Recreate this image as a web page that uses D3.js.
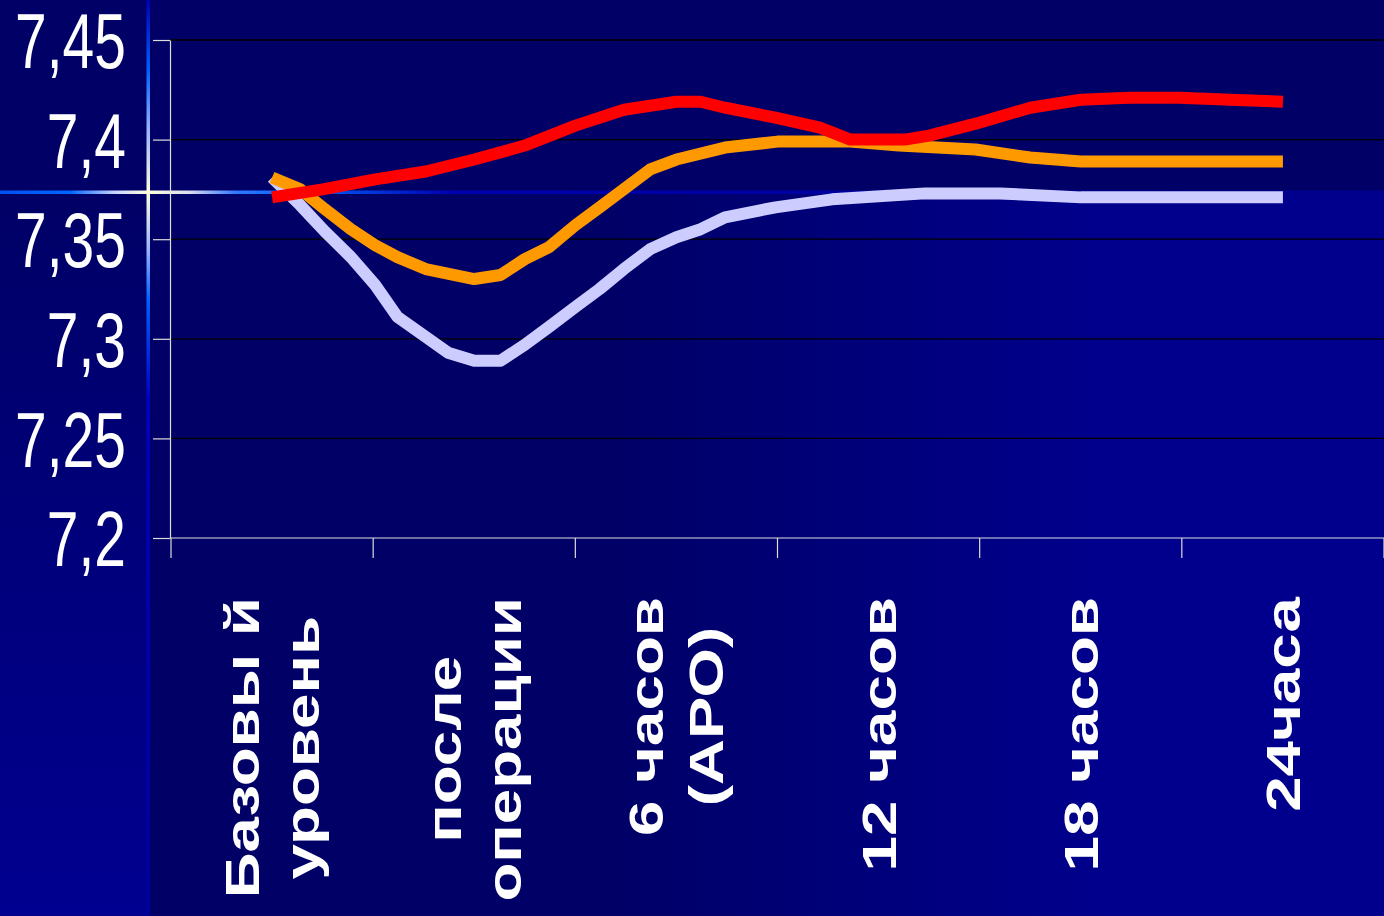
<!DOCTYPE html>
<html>
<head>
<meta charset="utf-8">
<script src="https://cdn.jsdelivr.net/npm/d3@7"></script>
<style>
    body { margin: 0; background: #000066; overflow: hidden; }
    text { font-family: "Liberation Sans", Arial, sans-serif; fill: #ffffff; }
</style>
</head>
<body>
<div id="chart"></div>
<script>
const categoryLabels = [
    ["Базовы й", "уровень"],
    ["после", "операции"],
    ["6 часов", "(АРО)"],
    ["12 часов"],
    ["18 часов"],
    ["24часа"]
];

const yTicks = [7.2, 7.25, 7.3, 7.35, 7.4, 7.45];
const yTickLabels = ["7,2", "7,25", "7,3", "7,35", "7,4", "7,45"];

// positions are in category units (0 = "Базовый уровень", 5 = "24часа")
const purplePos = [0, 0.14, 0.26, 0.39, 0.51, 0.62, 0.76, 0.87, 1.0, 1.13, 1.25, 1.37, 1.5, 1.62, 1.74, 1.87, 2.0, 2.12, 2.24, 2.49, 2.77, 3.23, 3.6, 4.0, 5.0];
const purpleVals = [7.381, 7.367, 7.354, 7.341, 7.327, 7.311, 7.301, 7.293, 7.289, 7.289, 7.297, 7.306, 7.316, 7.325, 7.335, 7.345, 7.351, 7.355, 7.361, 7.366, 7.370, 7.373, 7.373, 7.371, 7.371];

const orangePos = [0, 0.14, 0.25, 0.39, 0.51, 0.62, 0.76, 1.0, 1.13, 1.25, 1.37, 1.5, 1.62, 1.87, 2.0, 2.24, 2.5, 2.86, 3.1, 3.48, 3.75, 4.0, 5.0];
const orangeVals = [7.381, 7.375, 7.366, 7.355, 7.347, 7.341, 7.335, 7.330, 7.332, 7.340, 7.346, 7.357, 7.366, 7.385, 7.390, 7.396, 7.399, 7.399, 7.397, 7.395, 7.391, 7.389, 7.389];

const redPos = [0, 0.25, 0.51, 0.76, 1.0, 1.25, 1.5, 1.74, 2.0, 2.12, 2.24, 2.49, 2.71, 2.86, 3.13, 3.25, 3.48, 3.75, 4.0, 4.24, 4.49, 4.74, 5.0];
const redVals = [7.371, 7.375, 7.380, 7.384, 7.390, 7.397, 7.407, 7.415, 7.419, 7.419, 7.416, 7.411, 7.406, 7.400, 7.400, 7.402, 7.408, 7.416, 7.420, 7.421, 7.421, 7.420, 7.419];

const seriesList = [
    { pos: purplePos, vals: purpleVals, color: "#ccccff" },
    { pos: orangePos, vals: orangeVals, color: "#ff9900" },
    { pos: redPos, vals: redVals, color: "#ff0000" }
];

function drawBackground(svg, width, height) {
    const defs = svg.append("defs");

    const lower = defs.append("linearGradient")
        .attr("id", "lowerGrad")
        .attr("gradientUnits", "userSpaceOnUse")
        .attr("x1", 600).attr("y1", 0).attr("x2", 1100).attr("y2", 0);
    lower.append("stop").attr("offset", 0).attr("stop-color", "#000066");
    lower.append("stop").attr("offset", 1).attr("stop-color", "#00008c");

    const left = defs.append("linearGradient")
        .attr("id", "leftGrad")
        .attr("gradientUnits", "userSpaceOnUse")
        .attr("x1", 0).attr("y1", 192).attr("x2", 0).attr("y2", height);
    left.append("stop").attr("offset", 0).attr("stop-color", "#000066");
    left.append("stop").attr("offset", 1).attr("stop-color", "#000090");

    const vGlow = defs.append("linearGradient")
        .attr("id", "vGlow")
        .attr("gradientUnits", "userSpaceOnUse")
        .attr("x1", 0).attr("y1", 0).attr("x2", 0).attr("y2", height);
    [[0, "#0000b4"], [70, "#0060ff"], [130, "#99b4ff"], [192, "#ffffdd"], [250, "#99b4ff"], [300, "#0060ff"], [400, "#0000c0"], [916, "#00009c"]]
        .forEach(s => vGlow.append("stop").attr("offset", s[0] / height).attr("stop-color", s[1]));

    const hGlow = defs.append("linearGradient")
        .attr("id", "hGlow")
        .attr("gradientUnits", "userSpaceOnUse")
        .attr("x1", 0).attr("y1", 0).attr("x2", width).attr("y2", 0);
    [[0, "#0050f0"], [70, "#0066ff"], [115, "#c8d4ff"], [148, "#ffffdd"], [190, "#d8dcf0"], [235, "#3377ff"], [300, "#0066ff"], [450, "#0000b0"], [1384, "#00008c"]]
        .forEach(s => hGlow.append("stop").attr("offset", s[0] / width).attr("stop-color", s[1]));

    svg.append("rect").attr("width", width).attr("height", height).attr("fill", "#000066");
    svg.append("rect").attr("x", 148).attr("y", 192).attr("width", width - 148).attr("height", height - 192).attr("fill", "url(#lowerGrad)");
    svg.append("rect").attr("x", 0).attr("y", 192).attr("width", 148).attr("height", height - 192).attr("fill", "url(#leftGrad)");

    svg.append("rect").attr("x", 146.5).attr("y", 0).attr("width", 3.5).attr("height", height).attr("fill", "url(#vGlow)");
    svg.append("rect").attr("x", 0).attr("y", 190.5).attr("width", width).attr("height", 3.5).attr("fill", "url(#hGlow)");
}

function createChart() {
    const width = 1384;
    const height = 916;

    const svg = d3.select("#chart")
        .append("svg")
        .attr("width", width)
        .attr("height", height);

    drawBackground(svg, width, height);

    const xBand = d3.scaleBand()
        .domain(d3.range(categoryLabels.length))
        .range([171, 1384]);

    const xScale = d3.scaleLinear()
        .domain([-0.5, categoryLabels.length - 0.5])
        .range([171, 1384]);

    const yScale = d3.scaleLinear()
        .domain([7.2, 7.45])
        .range([538, 40]);

    // gridlines
    svg.append("g")
        .selectAll("line")
        .data(yTicks.filter(d => d > 7.2))
        .enter()
        .append("line")
        .attr("x1", 170)
        .attr("x2", width)
        .attr("y1", d => yScale(d))
        .attr("y2", d => yScale(d))
        .attr("stroke", "#000000")
        .attr("stroke-width", 1.3);

    // y axis
    const yAxis = svg.append("g")
        .attr("transform", "translate(170,0)")
        .call(d3.axisLeft(yScale).tickValues(yTicks).tickSize(17).tickSizeOuter(0).tickFormat(""));
    yAxis.selectAll("path, line").attr("stroke", "#dddddd").attr("stroke-width", 1.2);

    yAxis.selectAll(".tick")
        .append("text")
        .attr("transform", "translate(-44,0) scale(0.74,1)")
        .attr("text-anchor", "end")
        .attr("dy", "0.36em")
        .style("font-size", "77px")
        .style("fill", "#ffffff")
        .text((d, i) => yTickLabels[i]);

    // x axis
    const bounds = xBand.domain().map(d => xBand(d)).concat([xBand.range()[1]]);
    const xAxis = svg.append("g");
    xAxis.append("line")
        .attr("x1", xBand.range()[0]).attr("x2", xBand.range()[1])
        .attr("y1", yScale(7.2)).attr("y2", yScale(7.2))
        .attr("stroke", "#dddddd").attr("stroke-width", 1.2);
    xAxis.selectAll("line.tick")
        .data(bounds)
        .enter()
        .append("line")
        .attr("class", "tick")
        .attr("x1", d => d).attr("x2", d => d)
        .attr("y1", yScale(7.2)).attr("y2", yScale(7.2) + 20)
        .attr("stroke", "#dddddd").attr("stroke-width", 1.2);

    // category labels, rotated
    const labelTop = 597;
    const lineGap = 60;
    const stretch = 1.3;
    categoryLabels.forEach((lines, ci) => {
        const cx = xBand(ci) + xBand.bandwidth() / 2;
        const g = svg.append("g");
        const texts = lines.map(t => g.append("text")
            .attr("text-anchor", "middle")
            .style("font-size", "49px")
            .style("font-weight", "bold")
            .text(t));
        const maxLen = d3.max(texts, t => t.node().getComputedTextLength()) * stretch;
        const cy = labelTop + maxLen / 2;
        texts.forEach((t, li) => {
            const bx = cx + (li - (lines.length - 1) / 2) * lineGap + 17;
            t.attr("transform", `translate(${bx},${cy}) rotate(-90) scale(${stretch},1)`);
        });
    });

    // data lines
    const line = d3.line()
        .x(d => xScale(d[0]))
        .y(d => yScale(d[1]))
        .curve(d3.curveLinear);

    seriesList.forEach(s => {
        svg.append("path")
            .datum(s.pos.map((p, i) => [p, s.vals[i]]))
            .attr("fill", "none")
            .attr("stroke", s.color)
            .attr("stroke-width", 12)
            .attr("stroke-linejoin", "round")
            .attr("stroke-linecap", "butt")
            .attr("d", line);
    });
}

document.addEventListener("DOMContentLoaded", () => {
    createChart();
});
</script>
</body>
</html>
